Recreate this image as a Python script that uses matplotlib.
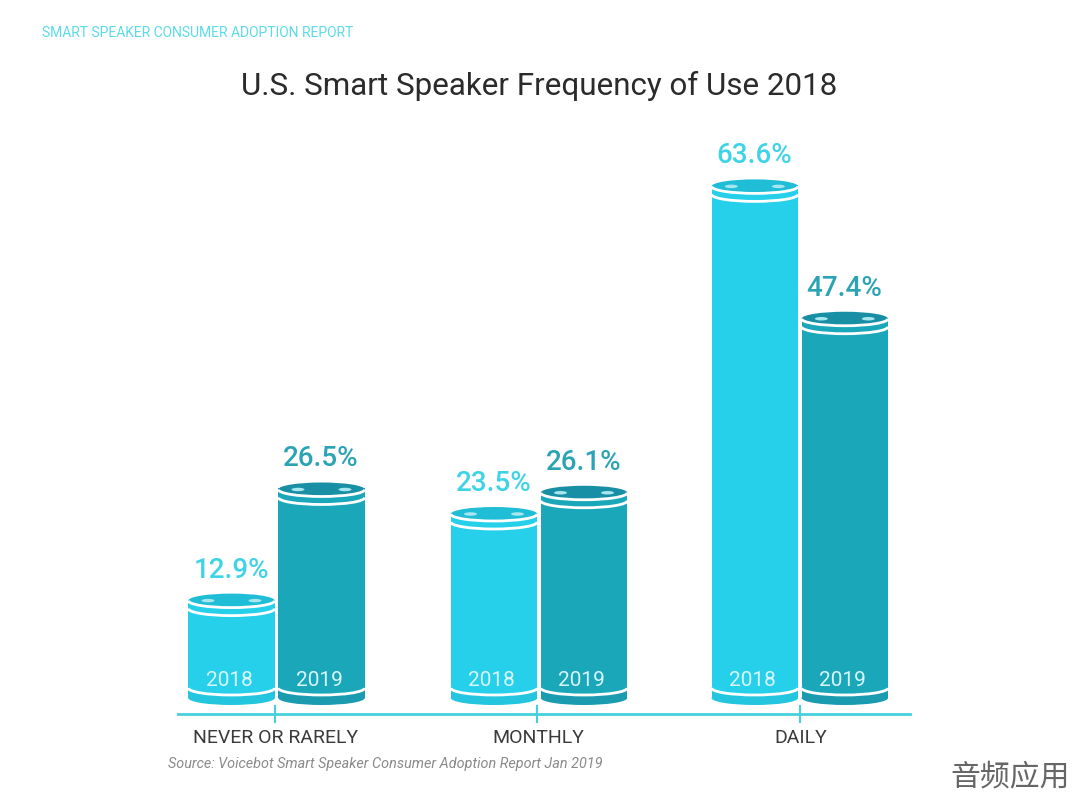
import matplotlib
matplotlib.use("Agg")
import matplotlib.pyplot as plt
from matplotlib.patches import Ellipse, Rectangle, Arc

categories = ["NEVER OR RARELY", "MONTHLY", "DAILY"]
years = ["2018", "2019"]
values_2018 = [12.9, 23.5, 63.6]
values_2019 = [26.5, 26.1, 47.4]
title = "U.S. Smart Speaker Frequency of Use 2018"
header = "SMART SPEAKER CONSUMER ADOPTION REPORT"
source = "Source: Voicebot Smart Speaker Consumer Adoption Report Jan 2019"
watermark = "音频应用"

W, H = 1080, 802
PX_X = 262.5      # pixels per category
PX_Y = 8.17       # pixels per percentage point
X0, Y0 = 275, 705 # pixel of category 0 / value 0

C18, C19 = "#27d0ea", "#1ba7ba"
CAP18, CAP19 = "#1fbdd6", "#188fa4"
BASE18, BASE19 = "#24c6df", "#1a9bb0"
AXIS = "#45d0dc"
plt.rcParams["font.family"] = ["Roboto", "DejaVu Sans"]

fig = plt.figure(figsize=(W / 100, H / 100), dpi=100, facecolor="white")
ax = fig.add_axes([0, 0, 1, 1])
ax.set_xlim(-X0 / PX_X, (W - X0) / PX_X)
ax.set_ylim(-(H - Y0) / PX_Y, Y0 / PX_Y)
ax.axis("off")

bw = 86.5 / PX_X
dx = 45 / PX_X
eh = 14 / PX_Y      # ellipse height
group_shift = [1.5 / PX_X, 1.5 / PX_X, -0.2 / PX_X]


def cylinder(xc, v, body, cap, base, val_col, year):
    top = v
    # body
    ax.add_patch(Rectangle((xc - bw / 2, eh / 2), bw, top - eh / 2, fc=body, ec="none", zorder=2))
    ax.add_patch(Ellipse((xc, eh / 2), bw, eh, fc=base, ec="none", zorder=2))
    # lower band
    ax.add_patch(Rectangle((xc - bw / 2, eh / 2), bw, 10 / PX_Y, fc=base, ec="none", zorder=2.1))
    ax.add_patch(Ellipse((xc, eh / 2 + 10 / PX_Y), bw, eh, fc=body, ec="none", zorder=2.2))
    ax.add_patch(Arc((xc, eh / 2 + 10 / PX_Y), bw, eh, theta1=180, theta2=360, color="white", lw=2, zorder=2.3))
    # top rings
    yc = top
    ax.add_patch(Arc((xc, yc - 9 / PX_Y), bw, eh, theta1=180, theta2=360, color="white", lw=2, zorder=3))
    ax.add_patch(Rectangle((xc - bw / 2, yc - 9 / PX_Y), bw, 8 / PX_Y, fc=body, ec="none", zorder=2.5))
    ax.add_patch(Ellipse((xc, yc - 1 / PX_Y), bw, eh, fc=cap, ec="none", zorder=3.1))
    ax.add_patch(Arc((xc, yc - 1 / PX_Y), bw, eh, theta1=180, theta2=360, color="white", lw=2, zorder=3.2))
    for s in (-1, 1):
        ax.add_patch(Ellipse((xc + s * 23.5 / PX_X, yc - 1 / PX_Y), 13 / PX_X, 3.5 / PX_Y,
                             fc="#a8e6ef", ec="none", zorder=3.3))
    ax.text(xc - 0.5 / PX_X, top + 29.5 / PX_Y, f"{v}%", color=val_col, fontsize=20, fontweight="medium",
            ha="center", va="center", zorder=4)
    ax.text(xc - 2.5 / PX_X, 24 / PX_Y, year, color="#d9f6fa", fontsize=15,
            ha="center", va="center", zorder=4)


for i, cat in enumerate(categories):
    cylinder(i + group_shift[i] - dx, values_2018[i], C18, CAP18, BASE18, "#3ed3e6", years[0])
    cylinder(i + group_shift[i] + dx, values_2019[i], C19, CAP19, BASE19, "#2aa3b5", years[1])
    ax.plot([i, i], [-17 / PX_Y, -1 / PX_Y], color=AXIS, lw=1.5, zorder=1)
    ax.text(i + 1 / PX_X, -33 / PX_Y, cat, color="#3a3a3a",
            fontsize=14, ha="center", va="center")

ax.plot([(178 - X0) / PX_X, (910 - X0) / PX_X], [-9 / PX_Y, -9 / PX_Y], color=AXIS, lw=2, zorder=1)

fig.text(42 / W, 1 - 33 / H, header, color="#5adbe8", fontsize=10, ha="left", va="center")
fig.text(539 / W, 1 - 86 / H, title, color="#2b2b2b", fontsize=22.6, ha="center", va="center")
fig.text(168 / W, 1 - 764 / H, source, color="#8a8a8a", fontsize=10.4, style="italic", ha="left", va="center")
fig.text(1010 / W, 1 - 777 / H, watermark, color="#666666", fontsize=21.5, ha="center", va="center",
         family=["Noto Sans CJK SC", "DejaVu Sans"], fontweight="light")

fig.savefig("out.png", dpi=100, facecolor="white")
